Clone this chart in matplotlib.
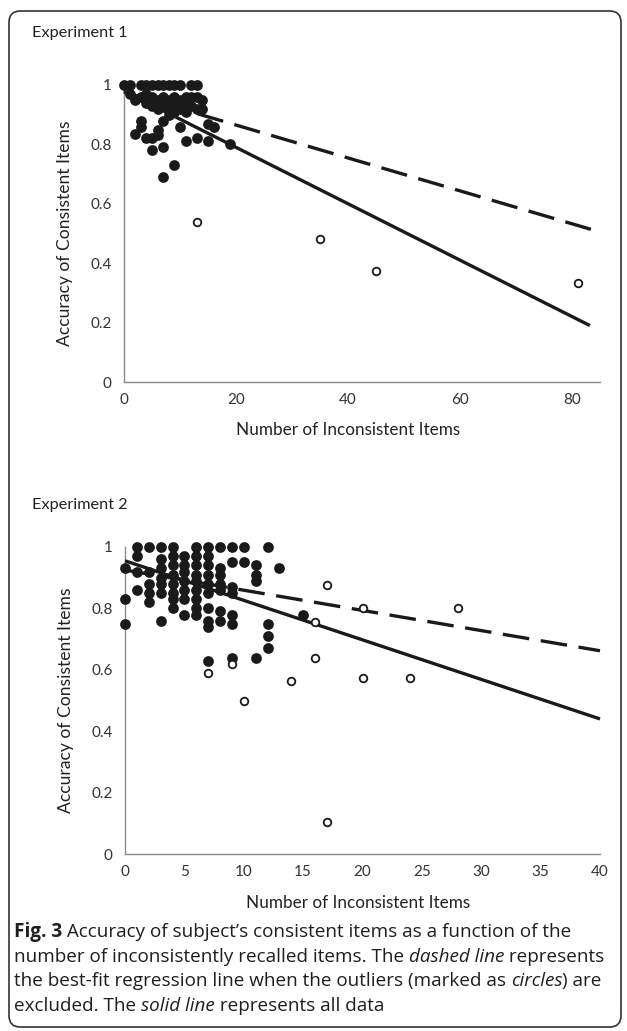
import matplotlib
matplotlib.use("Agg")
import matplotlib.pyplot as plt
from matplotlib.patches import FancyBboxPatch

W, H = 627, 1031
FONT = ["Lato", "DejaVu Sans"]
CAPTION_FONT = ["Open Sans", "DejaVu Sans"]
INK = "#1a1a1a"
AXIS_GREY = "#8c8c8c"

# Experiment 1 -- subjects kept in the regression (filled dots)
exp1_x = [0, 1, 3, 4, 5, 6, 7, 8, 9, 10, 12, 13,
          1, 2, 3, 4, 4, 5, 5, 6, 6, 7, 7, 8, 8, 8, 9, 9, 9, 10, 10,
          11, 11, 11, 12, 12, 13, 13, 14, 14,
          2, 3, 3, 4, 5, 5, 6, 6, 7, 7, 7, 9, 10, 11, 13, 15, 15, 16, 19]
exp1_y = [1, 1, 1, 1, 1, 1, 1, 1, 1, 1, 1, 1,
          0.97, 0.95, 0.96, 0.97, 0.94, 0.96, 0.93, 0.95, 0.92, 0.96, 0.93, 0.95, 0.92, 0.90,
          0.96, 0.93, 0.91, 0.95, 0.92,
          0.96, 0.93, 0.91, 0.96, 0.93, 0.96, 0.92, 0.95, 0.92,
          0.834, 0.86, 0.88, 0.82, 0.82, 0.78, 0.85, 0.83, 0.88, 0.79, 0.69, 0.73, 0.86,
          0.81, 0.82, 0.81, 0.87, 0.86, 0.80]
# Experiment 1 -- outliers (open circles)
exp1_out_x = [13, 35, 45, 81]
exp1_out_y = [0.54, 0.48, 0.375, 0.333]
# Experiment 1 -- fitted lines (end points)
exp1_all_x = [0, 83.2]
exp1_all_y = [0.98, 0.19]
exp1_clean_x = [0, 85]
exp1_clean_y = [0.976, 0.505]

# Experiment 2 -- filled dots, listed column by column
exp2_x = [0, 0, 0,
          1, 1, 1, 1,
          2, 2, 2, 2, 2,
          3, 3, 3, 3, 3, 3, 3,
          4, 4, 4, 4, 4, 4, 4, 4,
          5, 5, 5, 5, 5, 5, 5,
          6, 6, 6, 6, 6, 6, 6, 6, 6,
          7, 7, 7, 7, 7, 7, 7, 7, 7, 7,
          8, 8, 8, 8, 8, 8, 8,
          9, 9, 9, 9, 9, 9, 9,
          10, 10,
          11, 11, 11, 11,
          12, 12, 12, 12,
          13, 15]
exp2_y = [0.93, 0.83, 0.75,
          1.0, 0.97, 0.92, 0.86,
          1.0, 0.92, 0.88, 0.85, 0.82,
          1.0, 0.96, 0.93, 0.90, 0.88, 0.85, 0.76,
          1.0, 0.97, 0.94, 0.91, 0.88, 0.85, 0.83, 0.80,
          0.97, 0.94, 0.92, 0.89, 0.86, 0.83, 0.78,
          1.0, 0.97, 0.94, 0.91, 0.89, 0.86, 0.83, 0.80, 0.78,
          1.0, 0.97, 0.94, 0.91, 0.88, 0.85, 0.80, 0.76, 0.74, 0.63,
          1.0, 0.93, 0.91, 0.88, 0.86, 0.79, 0.76,
          1.0, 0.95, 0.87, 0.85, 0.78, 0.75, 0.64,
          1.0, 0.95,
          0.94, 0.91, 0.89, 0.64,
          1.0, 0.75, 0.71, 0.67,
          0.93, 0.78]
exp2_out_x = [7, 9, 10, 14, 16, 16, 17, 20, 28, 20, 24, 17]
exp2_out_y = [0.59, 0.62, 0.50, 0.565, 0.755, 0.637, 0.876, 0.80, 0.80, 0.574, 0.574, 0.105]
exp2_all_x = [0, 40]
exp2_all_y = [0.955, 0.44]
exp2_clean_x = [0, 40]
exp2_clean_y = [0.925, 0.662]

x_label = "Number of Inconsistent Items"
y_label = "Accuracy of Consistent Items"
caption = [
    [("Fig. 3", "bold"), (" Accuracy of subject\u2019s consistent items as a function of the", "normal")],
    [("number of inconsistently recalled items. The ", "normal"), ("dashed line", "italic"),
     (" represents", "normal")],
    [("the best-fit regression line when the outliers (marked as ", "normal"), ("circles", "italic"),
     (") are", "normal")],
    [("excluded. The ", "normal"), ("solid line", "italic"), (" represents all data", "normal")],
]


def px_axes(fig, left, top, right, bottom):
    return fig.add_axes([left / W, 1 - bottom / H, (right - left) / W, (bottom - top) / H])


def panel(ax, xs, ys, ox, oy, all_x, all_y, clean_x, clean_y, xmax, xticks, xlabel_center):
    ax.scatter(xs, ys, s=60, color=INK, linewidths=0, clip_on=False, zorder=3)
    ax.plot(all_x, all_y, color=INK, lw=2.4, solid_capstyle="butt", clip_on=False, zorder=4)
    ax.plot(clean_x, clean_y, color=INK, lw=2.4, dashes=(8, 3.5), clip_on=False, zorder=4)
    ax.scatter(ox, oy, s=30, facecolor="white", edgecolor=INK, linewidths=1.3,
               clip_on=False, zorder=5)
    ax.set_xlim(0, xmax)
    ax.set_ylim(0, 1)
    ax.set_xticks(xticks)
    ax.set_yticks([0, 0.2, 0.4, 0.6, 0.8, 1])
    ax.set_yticklabels(["0", "0.2", "0.4", "0.6", "0.8", "1"])
    for side in ("top", "right"):
        ax.spines[side].set_visible(False)
    for side in ("left", "bottom"):
        ax.spines[side].set_color(AXIS_GREY)
        ax.spines[side].set_linewidth(1.0)
    ax.tick_params(length=0, labelsize=11, colors="#333333", pad=8)
    ax.tick_params(axis="y", pad=9)
    ax.set_xlabel(x_label, fontsize=12.3, color="#222222")
    ax.xaxis.set_label_coords(xlabel_center, -0.135)
    ax.set_ylabel(y_label, fontsize=12.6, color="#222222")
    ax.yaxis.set_label_coords(-0.107, 0.5)


def rich_line(fig, renderer, x, y, parts, size):
    for text, style in parts:
        kw = dict(fontsize=size, color="#1e1e1e", va="center", ha="left", family=CAPTION_FONT,
                  fontweight="bold" if style == "bold" else "normal",
                  fontstyle="italic" if style == "italic" else "normal")
        probe = fig.text(0, 0, "|" + text + "|", **kw)
        bars = fig.text(0, 0, "||", **kw)
        width = probe.get_window_extent(renderer).width - bars.get_window_extent(renderer).width
        probe.remove()
        bars.remove()
        fig.text(x / W, 1 - y / H, text, **kw)
        x += width


def main():
    plt.rcParams["font.family"] = FONT
    fig = plt.figure(figsize=(W / 100, H / 100), dpi=100)
    fig.patch.set_facecolor("white")

    frame = FancyBboxPatch((9 / W, 4 / H), 612 / W, 1016 / H,
                           boxstyle="round,pad=0,rounding_size=0.018",
                           transform=fig.transFigure, facecolor="none",
                           edgecolor="#333333", linewidth=1.2, mutation_aspect=W / H)
    fig.patches.append(frame)

    fig.text(32 / W, 1 - 33 / H, "Experiment 1", fontsize=11.7, color="#222222", va="center")
    fig.text(32 / W, 1 - 505 / H, "Experiment 2", fontsize=11.7, color="#222222", va="center")

    ax1 = px_axes(fig, 124, 85, 600, 382)
    panel(ax1, exp1_x, exp1_y, exp1_out_x, exp1_out_y, exp1_all_x, exp1_all_y,
          exp1_clean_x, exp1_clean_y, 85, [0, 20, 40, 60, 80], 0.47)

    ax2 = px_axes(fig, 125, 547, 600, 854)
    panel(ax2, exp2_x, exp2_y, exp2_out_x, exp2_out_y, exp2_all_x, exp2_all_y,
          exp2_clean_x, exp2_clean_y, 40, list(range(0, 41, 5)), 0.49)

    renderer = fig.canvas.get_renderer()
    for i, parts in enumerate(caption):
        rich_line(fig, renderer, 14, 932 + 24.7 * i, parts, 13.6)

    fig.savefig("out.png", dpi=100, facecolor="white")
    plt.close(fig)


if __name__ == "__main__":
    main()
